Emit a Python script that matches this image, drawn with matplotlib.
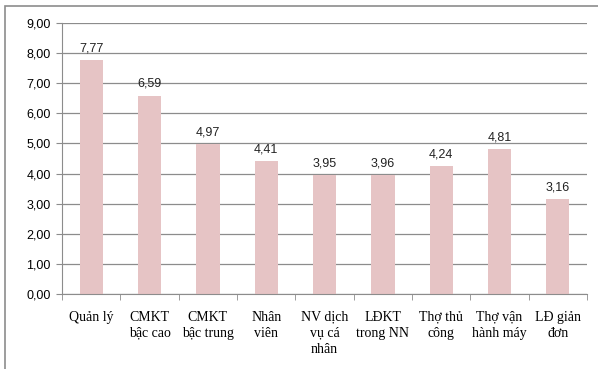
import numpy as np
import matplotlib.pyplot as plt
from matplotlib.ticker import FuncFormatter, FixedLocator
from matplotlib.patches import Rectangle

# occupational groups and their values
categories = ["Quản lý", "CMKT\nbậc cao", "CMKT\nbậc trung", "Nhân\nviên",
              "NV dịch\nvụ cá\nnhân", "LĐKT\ntrong NN", "Thợ thủ\ncông",
              "Thợ vận\nhành máy", "LĐ giản\nđơn"]
values = [7.77, 6.59, 4.97, 4.41, 3.95, 3.96, 4.24, 4.81, 3.16]
y_ticks = [0, 1, 2, 3, 4, 5, 6, 7, 8, 9]


def comma(v, pos=None):
    return f"{v:.2f}".replace(".", ",")


def main():
    fig = plt.figure(figsize=(5.98, 3.69), dpi=100)
    ax = fig.add_axes([0.1037, 0.2033, 0.8779, 0.7344])

    # outer chart frame
    fig.patches.append(Rectangle((5 / 598, -0.1), 1.2, 1 - 6 / 369 + 0.1,
                                 transform=fig.transFigure, fill=False,
                                 edgecolor="#8c8c8c", linewidth=1.2))

    x = np.arange(len(values))
    ax.bar(x, values, width=0.4, color="#e6c4c5", zorder=2)

    for xi, v in zip(x, values):
        ax.annotate(comma(v), (xi, v), xytext=(0, 4), textcoords="offset points",
                    ha="center", va="bottom", fontsize=9, color="#222222",
                    family="Liberation Sans")

    ax.set_xlim(-0.5, len(values) - 0.5)
    ax.set_ylim(0, 9)
    ax.set_yticks(y_ticks)
    ax.yaxis.set_major_formatter(FuncFormatter(comma))
    ax.grid(axis="y", color="#8c8c8c", linewidth=0.9, zorder=0)
    ax.set_axisbelow(True)

    ax.set_xticks(x)
    ax.set_xticklabels(categories, family="Liberation Serif", fontsize=10,
                       linespacing=1.3)
    ax.xaxis.set_minor_locator(FixedLocator(np.arange(-0.5, len(values), 1.0)))
    ax.tick_params(axis="x", which="major", length=0, pad=12)
    ax.tick_params(axis="x", which="minor", length=4, color="#8c8c8c")
    ax.tick_params(axis="y", length=4, color="#8c8c8c", labelsize=9, pad=4)
    for lbl in ax.get_yticklabels():
        lbl.set_family("Liberation Sans")

    for s in ("top", "right"):
        ax.spines[s].set_visible(False)
    for s in ("left", "bottom"):
        ax.spines[s].set_color("#8c8c8c")

    fig.savefig("out.png", dpi=100)


if __name__ == '__main__':
    main()
